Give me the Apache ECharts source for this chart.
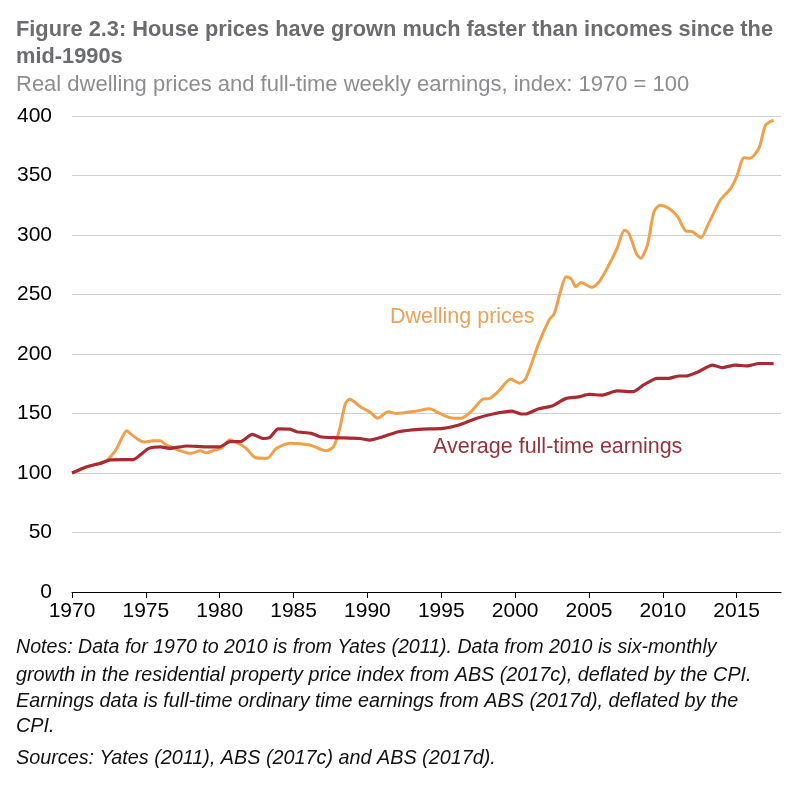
<!DOCTYPE html>
<html>
<head>
<meta charset="utf-8">
<script src="https://cdn.jsdelivr.net/npm/echarts@6/dist/echarts.min.js"></script>
<style>
  html, body { margin: 0; padding: 0; background: #fff; }
  #chart { width: 793px; height: 793px; }
</style>
</head>
<body>
<div id="chart"></div>
<script>
// real dwelling prices, index 1970 = 100
const priceYears = [1970.0, 1970.5, 1971.0, 1971.5, 1972.0, 1972.4, 1972.7, 1973.0, 1973.4, 1973.7,
  1974.05, 1974.5, 1974.85, 1975.5, 1975.97, 1976.4, 1976.9, 1977.3, 1978.0, 1978.7,
  1979.1, 1979.6, 1980.1, 1980.7, 1980.9, 1981.4, 1981.8, 1982.4, 1983.2, 1983.85,
  1984.75, 1986.1, 1987.2, 1987.7, 1988.1, 1988.5, 1988.8, 1989.6, 1990.15, 1990.7,
  1991.4, 1991.96, 1993.3, 1994.2, 1994.8, 1995.6, 1996.35, 1997.0, 1997.8, 1998.3,
  1998.9, 1999.7, 2000.3, 2000.7, 2001.2, 2001.6, 2002.3, 2002.65, 2003.1, 2003.45,
  2003.8, 2004.1, 2004.46, 2005.2, 2005.7, 2006.4, 2006.9, 2007.4, 2007.7, 2008.2,
  2008.5, 2008.96, 2009.4, 2009.8, 2010.4, 2011.0, 2011.55, 2012.0, 2012.57, 2013.1,
  2013.9, 2014.6, 2015.0, 2015.5, 2015.9, 2016.5, 2016.96, 2017.5];
const priceIndex = [100, 102.5, 105, 107, 109, 111, 115, 120, 130, 135.6,
  132, 128, 126, 127, 127, 123.5, 121, 118.7, 116.5, 118.7,
  117, 119, 120.7, 128, 127, 124, 120.7, 113, 112.3, 120.7,
  125, 123.5, 118.7, 122, 136, 158, 162, 155, 151.5, 146,
  151.5, 150, 152, 154, 150.7, 146.5, 146, 151.5, 162, 162.8,
  169, 179, 175.5, 179, 195, 209, 228.6, 234, 253.8, 265,
  263, 256.6, 260, 256, 260.8, 276, 288.8, 304, 301.4, 284.6,
  280.4, 291.6, 319.6, 325, 322.4, 315.4, 303.4, 302.8, 297.7, 309.8,
  329.4, 339.2, 349, 365, 364.5, 372.8, 392.4, 396.6];

// full-time weekly earnings, index 1970 = 100
const earnYears = [1970.0, 1971.0, 1971.9, 1972.6, 1974.2, 1974.6, 1975.2, 1976.0, 1976.6, 1977.8,
  1979.1, 1980.0, 1980.7, 1981.4, 1982.2, 1982.95, 1983.4, 1983.96, 1984.75, 1985.2,
  1986.2, 1986.8, 1987.7, 1989.5, 1990.15, 1991.05, 1992.1, 1993.5, 1995.1, 1996.2,
  1997.4, 1998.5, 1999.8, 2000.4, 2000.7, 2001.6, 2002.5, 2003.45, 2004.3, 2005.0,
  2005.9, 2006.9, 2008.0, 2008.7, 2009.6, 2010.4, 2011.1, 2011.55, 2012.4, 2013.35,
  2014.0, 2014.9, 2015.7, 2016.5, 2017.5];
const earnIndex = [100, 105.3, 108, 111, 111.5, 115, 120.7, 122, 120.7, 122.7,
  122, 122, 126.3, 126.3, 132.5, 129, 130, 137, 136.8, 134.7,
  133.3, 130.5, 129.7, 129, 127.7, 130.5, 134.7, 136.7, 137.5, 140.3,
  146, 149.6, 152, 149.6, 149.6, 154, 156.3, 162.7, 164, 166,
  165.5, 169, 168.3, 174, 179.6, 179.6, 181.5, 181.5, 185, 190.7,
  188.5, 190.7, 190, 192, 192];

const xTicks = [1970, 1975, 1980, 1985, 1990, 1995, 2000, 2005, 2010, 2015];

const FONT = '"Liberation Sans", Arial, Helvetica, sans-serif';
const ORANGE = '#f0a04a';
const RED = '#a82b33';

const notesFirst = 'Notes: Data for 1970 to 2010 is from Yates (2011). Data from 2010 is six-monthly';
const notesRest = [
  'growth in the residential property price index from ABS (2017c), deflated by the CPI.',
  'Earnings data is full-time ordinary time earnings from ABS (2017d), deflated by the',
  'CPI.'
];

const zip = (xs, ys) => xs.map((x, i) => [x, ys[i]]);

const chart = echarts.init(document.getElementById('chart'), null, { renderer: 'canvas' });

chart.setOption({
  animation: false,
  textStyle: { fontFamily: FONT },
  grid: { left: 72, right: 12, top: 116, bottom: 201, containLabel: false },
  xAxis: {
    type: 'value', min: 1970, max: 2018,
    axisLine: { show: true, onZero: false, lineStyle: { color: '#000', width: 1.2 } },
    axisTick: { show: true, length: 6, lineStyle: { color: '#000' }, customValues: xTicks },
    axisLabel: { customValues: xTicks, formatter: (v) => String(v), color: '#000', fontSize: 21, margin: 9, fontFamily: FONT },
    splitLine: { show: false }
  },
  yAxis: {
    type: 'value', min: 0, max: 400, interval: 50,
    axisLine: { show: false },
    axisTick: { show: false },
    axisLabel: { color: '#000', fontSize: 21, margin: 20, fontFamily: FONT },
    splitLine: { lineStyle: { color: '#cfcfcf', width: 1.2 } }
  },
  series: [
    {
      name: 'Dwelling prices', type: 'line', data: zip(priceYears, priceIndex),
      showSymbol: false, smooth: 0.25,
      lineStyle: { color: ORANGE, width: 3 }, z: 3
    },
    {
      name: 'Average full-time earnings', type: 'line', data: zip(earnYears, earnIndex),
      showSymbol: false, smooth: 0.2,
      lineStyle: { color: RED, width: 3.2 }, z: 4
    }
  ],
  graphic: [
    { type: 'text', left: 16, top: 16, style: {
        text: 'Figure 2.3: House prices have grown much faster than incomes since the\nmid-1990s',
        font: 'bold 21.8px ' + FONT, fill: '#6b6c6f', lineHeight: 27 } },
    { type: 'text', left: 16, top: 74, style: {
        text: 'Real dwelling prices and full-time weekly earnings, index: 1970 = 100',
        font: '22px ' + FONT, fill: '#8c8d90' } },
    { type: 'text', left: 390, top: 306, style: {
        text: 'Dwelling prices', font: '21.5px ' + FONT, fill: '#e8a35a' } },
    { type: 'text', left: 433, top: 436, style: {
        text: 'Average full-time earnings', font: '21.5px ' + FONT, fill: '#93333c' } },
    { type: 'text', left: 16, top: 638, style: {
        text: notesFirst, font: 'italic 19.6px ' + FONT, fill: '#111' } },
    { type: 'text', left: 16, top: 663, style: {
        text: notesRest.join('\n'), font: 'italic 19.8px ' + FONT, fill: '#111', lineHeight: 25.5 } },
    { type: 'text', left: 16, top: 748, style: {
        text: 'Sources: Yates (2011), ABS (2017c) and ABS (2017d).',
        font: 'italic 19.8px ' + FONT, fill: '#111' } }
  ]
});
</script>
</body>
</html>
